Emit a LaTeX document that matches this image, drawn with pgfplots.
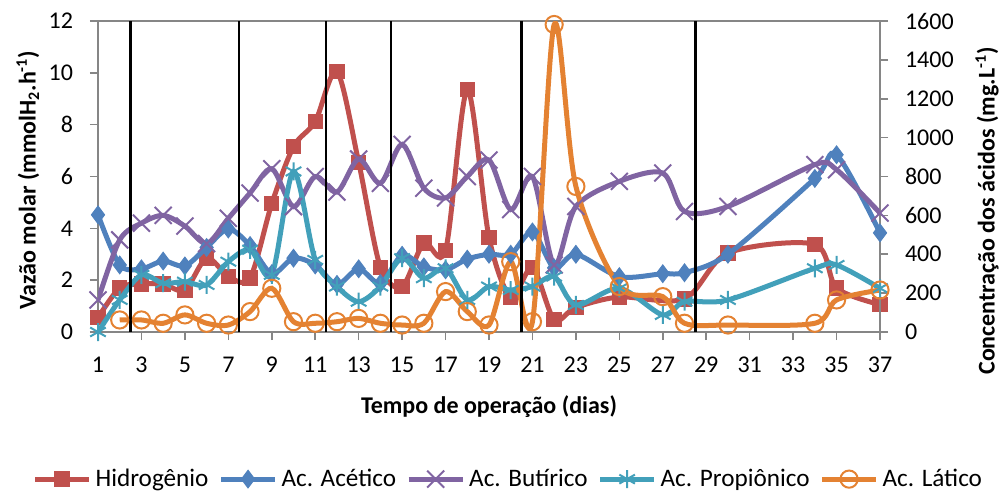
\documentclass[border=0pt]{standalone}
\usepackage{pgfplots}
\pgfplotsset{compat=1.18}
\usepackage{fontspec}
\setmainfont{Carlito}
\definecolor{cH}{RGB}{192,80,77}
\definecolor{cA}{RGB}{79,129,189}
\definecolor{cB}{RGB}{128,100,162}
\definecolor{cP}{RGB}{66,160,186}
\definecolor{cL}{RGB}{228,130,50}
\definecolor{axgray}{RGB}{134,134,134}

\pgfplotsset{
  base/.style={
    scale only axis, width=391pt, height=155.5pt,
    xmin=1, xmax=37,
    axis line style={axgray, line width=0.8pt},
    tick style={axgray, line width=0.8pt},
    tick align=outside,
    major tick length=4pt,
    /pgf/number format/assume math mode=true,
    /pgf/number format/1000 sep={},
    tick label style={font=\fontsize{12}{14}\selectfont},
  },
  hstyle/.style={cH, line width=2.5pt, smooth, mark=square*, mark size=3.6pt, mark options={solid, line width=0.5pt}},
  astyle/.style={cA, line width=2.5pt, smooth, mark=diamond*, mark size=4.4pt, mark options={solid, line width=0.5pt}},
  bstyle/.style={cB, line width=2.5pt, smooth, mark=x, mark size=6pt, mark options={solid, line width=1pt}},
  pstyle/.style={cP, line width=2.5pt, smooth, mark=asterisk, mark size=4.5pt, mark options={solid, line width=1pt}},
  lstyle/.style={cL, line width=2.5pt, smooth, mark=o, mark size=4.3pt, mark options={solid, line width=1pt}},
  vline/.style={black, line width=1.2pt, forget plot},
}

\pgfplotstableread{
x y
1 0.55
2 1.70
3 1.85
4 1.85
5 1.62
6 2.85
7 2.15
8 2.08
9 4.95
10 7.15
11 8.12
12 10.05
13 6.55
14 2.50
15 1.75
16 3.43
17 3.15
18 9.35
19 3.65
20 1.35
21 2.48
22 0.48
23 0.95
25 1.35
28 1.28
30 3.05
34 3.38
35 1.70
37 1.06
}\hidro

\pgfplotstableread{
x y
1 603
2 345
3 325
4 365
5 340
6 435
7 530
8 445
9 300
10 380
11 345
12 245
13 325
14 250
15 395
16 335
17 320
18 375
19 400
20 400
21 515
22 330
23 400
25 285
27 300
28 305
30 400
34 790
35 912
37 510
}\acetico

\pgfplotstableread{
x y
1 165
2 474
3 560
4 600
5 545
6 455
7 585
8 715
9 840
10 645
11 800
12 720
13 890
14 765
15 965
16 740
17 690
18 800
19 885
20 630
21 800
22 345
23 646
25 775
27 818
28 620
30 646
34 861
35 835
37 612
}\butirico

\pgfplotstableread{
x y
1 0
2 165
3 294
4 251
5 259
6 242
7 362
8 423
9 294
10 826
11 371
12 234
13 156
14 234
15 380
16 277
17 328
18 165
19 234
20 216
21 234
22 285
23 139
25 225
27 88
28 156
30 165
34 328
35 345
37 225
}\propionico

\pgfplotstableread{
x y
2 62
3 62
4 45
5 88
6 45
7 36
8 105
9 225
10 53
11 45
12 53
13 70
14 45
15 36
16 45
17 208
18 105
19 36
20 362
21 53
22 1582
23 749
25 234
27 182
28 45
30 36
34 45
35 165
37 216
}\latico

\begin{document}
\begin{tikzpicture}
\begin{axis}[base,
  ymin=0, ymax=12, ytick={0,2,...,12},
  xtick={1,3,...,37},
  xtick pos=bottom, ytick pos=left,
  yticklabel style={xshift=-5pt},
  xticklabel style={yshift=-5pt},
  xlabel={Tempo de operação (dias)},
  ylabel={Vazão molar (mmolH\textsubscript{2}.h\textsuperscript{-1})},
  every axis x label/.style={at={(axis description cs:0.5,-0.241)}, anchor=center, font=\bfseries\fontsize{12}{14}\selectfont},
  every axis y label/.style={at={(axis description cs:-0.0897,0.489)}, anchor=center, rotate=90, font=\bfseries\fontsize{12}{14}\selectfont},
]
\addplot[hstyle] table[x=x,y=y] {\hidro};
\end{axis}
\begin{axis}[base,
  ymin=0, ymax=1600, ytick={0,200,...,1600},
  axis x line=none, axis y line*=right,
  yticklabel style={xshift=5pt},
  ylabel={Concentração dos ácidos (mg.L\textsuperscript{-1})},
  every axis y label/.style={at={(axis description cs:1.137,0.389)}, anchor=center, rotate=90, font=\bfseries\fontsize{12}{14}\selectfont},
  legend columns=5,
  legend style={at={(axis description cs:0.526,-0.473)}, anchor=center, draw=none, fill=none,
    font=\fontsize{12.6}{14}\selectfont,
    /tikz/every even column/.append style={column sep=3pt}},
  legend image code/.code={\draw[mark repeat=2,mark phase=2,#1] plot coordinates {(0pt,0pt) (13.5pt,0pt) (27pt,0pt)};},
]
\addlegendimage{hstyle}
\addlegendentry{Hidrogênio}
\addplot[astyle] table[x=x,y=y] {\acetico};
\addlegendentry{Ac. Acético}
\addplot[bstyle] table[x=x,y=y] {\butirico};
\addlegendentry{Ac. Butírico}
\addplot[pstyle] table[x=x,y=y] {\propionico};
\addlegendentry{Ac. Propiônico}
\addplot[lstyle] table[x=x,y=y] {\latico};
\addlegendentry{Ac. Lático}
\addplot[vline] coordinates {(2.5,0) (2.5,1600)};
\addplot[vline] coordinates {(7.5,0) (7.5,1600)};
\addplot[vline] coordinates {(11.5,0) (11.5,1600)};
\addplot[vline] coordinates {(14.5,0) (14.5,1600)};
\addplot[vline] coordinates {(20.5,0) (20.5,1600)};
\addplot[vline] coordinates {(28.5,0) (28.5,1600)};
\end{axis}
\pgfresetboundingbox
\path[use as bounding box] (-49pt,-81pt) rectangle (451pt,166pt);
\end{tikzpicture}
\end{document}
